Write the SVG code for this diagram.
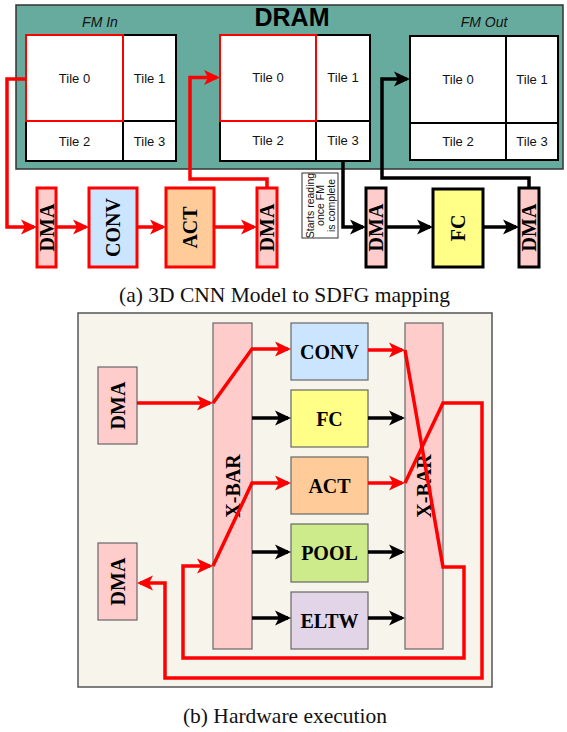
<svg xmlns="http://www.w3.org/2000/svg" width="567" height="732" viewBox="0 0 567 732">
<style>
.tile{fill:#fff;stroke:#000;stroke-width:2}
.tsel{fill:none;stroke:#ff0000;stroke-width:2}
.tt{font-family:"Liberation Sans",Arial,sans-serif;font-size:13px;fill:#111;text-anchor:middle;dominant-baseline:central}
.fm{font-family:"Liberation Sans",Arial,sans-serif;font-size:14px;font-style:italic;fill:#111;text-anchor:middle}
.lb{font-family:"Liberation Serif","Times New Roman",serif;font-size:20px;font-weight:bold;fill:#000;text-anchor:middle;dominant-baseline:central}
.cap{font-family:"Liberation Serif","Times New Roman",serif;font-size:21.5px;fill:#111;text-anchor:middle}
.rl{fill:none;stroke:#ff0000;stroke-width:3.5;stroke-linejoin:miter}
.bl{fill:none;stroke:#000;stroke-width:3.5;stroke-linejoin:miter}
.ra{marker-end:url(#ar)}
.ba{marker-end:url(#ab)}
.ab{stroke:#ff0000;stroke-width:3}
.abk{stroke:#000;stroke-width:3}
.bb{stroke:#666;stroke-width:1.2}
</style>
<defs>
<marker id="ar" markerUnits="userSpaceOnUse" markerWidth="18" markerHeight="18" viewBox="-14 -9 18 18" refX="0" refY="0" orient="auto"><path d="M-13,-7.5 L3,0 L-13,7.5 L-9,0 z" fill="#ff0000"/></marker>
<marker id="ab" markerUnits="userSpaceOnUse" markerWidth="18" markerHeight="18" viewBox="-14 -9 18 18" refX="0" refY="0" orient="auto"><path d="M-13,-7.5 L3,0 L-13,7.5 L-9,0 z" fill="#000"/></marker>
</defs>
<rect width="567" height="732" fill="#fff"/>

<!-- Part (a) -->
<g id="dram">
<rect x="16" y="5" width="547" height="164" fill="#67ab9f" stroke="#333" stroke-width="1.5"/>
<text x="292" y="26" font-family="'Liberation Sans',Arial,sans-serif" font-size="25" font-weight="bold" text-anchor="middle" fill="#000">DRAM</text>
</g>
<g id="fm-in">
<text class="fm" x="100" y="27">FM In</text>
<rect class="tile" x="26" y="35" width="150" height="126"/>
<line x1="123" y1="35" x2="123" y2="161" stroke="#000" stroke-width="2"/>
<line x1="26" y1="121" x2="176" y2="121" stroke="#000" stroke-width="2"/>
<rect class="tsel" x="26" y="35" width="97" height="86"/>
<text class="tt" x="74.5" y="78">Tile 0</text>
<text class="tt" x="149.5" y="78">Tile 1</text>
<text class="tt" x="74.5" y="141">Tile 2</text>
<text class="tt" x="149.5" y="141">Tile 3</text>
</g>
<g id="fm-mid">
<rect class="tile" x="220" y="35" width="150" height="126"/>
<line x1="316" y1="35" x2="316" y2="161" stroke="#000" stroke-width="2"/>
<line x1="220" y1="121" x2="370" y2="121" stroke="#000" stroke-width="2"/>
<rect class="tsel" x="220" y="35" width="96" height="86"/>
<text class="tt" x="268" y="77">Tile 0</text>
<text class="tt" x="343" y="77">Tile 1</text>
<text class="tt" x="268" y="140">Tile 2</text>
<text class="tt" x="343" y="140">Tile 3</text>
</g>
<g id="fm-out">
<text class="fm" x="484" y="27">FM Out</text>
<rect class="tile" x="410" y="36" width="148" height="124"/>
<line x1="506" y1="36" x2="506" y2="160" stroke="#000" stroke-width="2"/>
<line x1="410" y1="123" x2="558" y2="123" stroke="#000" stroke-width="2"/>
<text class="tt" x="458" y="79">Tile 0</text>
<text class="tt" x="532" y="79">Tile 1</text>
<text class="tt" x="458" y="141">Tile 2</text>
<text class="tt" x="532" y="141">Tile 3</text>
</g>

<g id="a-dma1"><rect class="ab" x="37" y="188" width="19" height="79" fill="#ffcccc"/><text class="lb" transform="translate(46.5,227.5) rotate(-90)">DMA</text></g>
<g id="a-conv"><rect class="ab" x="89" y="188" width="48" height="79" fill="#cce5ff"/><text class="lb" transform="translate(113,227.5) rotate(-90)">CONV</text></g>
<g id="a-act"><rect class="ab" x="166" y="188" width="48" height="79" fill="#ffcc99"/><text class="lb" transform="translate(190,227.5) rotate(-90)">ACT</text></g>
<g id="a-dma2"><rect class="ab" x="257" y="188" width="20" height="79" fill="#ffcccc"/><text class="lb" transform="translate(267,227.5) rotate(-90)">DMA</text></g>
<g id="a-dma3"><rect class="abk" x="366" y="188" width="20" height="79" fill="#ffcccc"/><text class="lb" transform="translate(376,227.5) rotate(-90)">DMA</text></g>
<g id="a-fc"><rect class="abk" x="433" y="189" width="50" height="78" fill="#ffff88"/><text class="lb" transform="translate(458,228) rotate(-90)">FC</text></g>
<g id="a-dma4"><rect class="abk" x="519" y="188" width="20" height="79" fill="#ffcccc"/><text class="lb" transform="translate(529,227.5) rotate(-90)">DMA</text></g>

<g id="note">
<rect x="302" y="173" width="36" height="65" fill="#fff" stroke="#333" stroke-width="1"/>
<text transform="translate(320,205.5) rotate(-90)" font-family="'Liberation Sans',Arial,sans-serif" font-size="10.5" fill="#111" text-anchor="middle" dominant-baseline="central"><tspan x="0" y="-10.5">Starts reading</tspan><tspan x="0" y="0">once FM</tspan><tspan x="0" y="10.5">is complete</tspan></text>
</g>

<g id="a-connectors">
<path class="rl ra" d="M26,79 H7 V227 H34"/>
<path class="rl ra" d="M56,227 H86"/>
<path class="rl ra" d="M137,227 H163"/>
<path class="rl ra" d="M214,227 H254"/>
<path class="rl ra" d="M267,188 V179 H190 V77.5 H217"/>
<path class="bl ba" d="M343,161 V227 H363"/>
<path class="bl ba" d="M386,227 H430"/>
<path class="bl ba" d="M483,227 H516"/>
<path class="bl ba" d="M529,188 V178 H382 V79 H407"/>
</g>

<text class="cap" x="284.5" y="302">(a) 3D CNN Model to SDFG mapping</text>

<!-- Part (b) -->
<g id="hw-frame"><rect x="78" y="313" width="414" height="374" fill="#f7f4ec" stroke="#555" stroke-width="1.5"/></g>
<g id="b-dma-top"><rect class="bb" x="98" y="367" width="39" height="77" fill="#ffcccc"/><text class="lb" transform="translate(117.5,405.5) rotate(-90)">DMA</text></g>
<g id="b-dma-bot"><rect class="bb" x="98" y="543" width="39" height="77" fill="#ffcccc"/><text class="lb" transform="translate(117.5,581.5) rotate(-90)">DMA</text></g>
<g id="xbar-l"><rect class="bb" x="213" y="323" width="39" height="326" fill="#ffcccc"/><text class="lb" transform="translate(232.5,486) rotate(-90)">X-BAR</text></g>
<g id="xbar-r"><rect class="bb" x="405" y="323" width="38" height="326" fill="#ffcccc"/><text class="lb" transform="translate(424,486) rotate(-90)">X-BAR</text></g>
<g id="b-conv"><rect class="bb" x="291" y="323" width="77" height="57" fill="#cce5ff"/><text class="lb" x="329.5" y="351.5">CONV</text></g>
<g id="b-fc"><rect class="bb" x="291" y="390" width="77" height="57" fill="#ffff88"/><text class="lb" x="329.5" y="418.5">FC</text></g>
<g id="b-act"><rect class="bb" x="291" y="457" width="77" height="57" fill="#ffcc99"/><text class="lb" x="329.5" y="485.5">ACT</text></g>
<g id="b-pool"><rect class="bb" x="291" y="524" width="77" height="58" fill="#cdeb8b"/><text class="lb" x="329.5" y="553">POOL</text></g>
<g id="b-eltw"><rect class="bb" x="291" y="592" width="77" height="57" fill="#e1d5e7"/><text class="lb" x="329.5" y="620.5">ELTW</text></g>

<g id="b-connectors">
<path class="rl ra" d="M137,403 H210"/>
<path class="rl ra" d="M213,403 L252,349 H288"/>
<path class="bl ba" d="M252,418 H288"/>
<path class="rl ra" d="M213,566 L252,483 H288"/>
<path class="bl ba" d="M252,552 H288"/>
<path class="bl ba" d="M252,618 H288"/>
<path class="rl ra" d="M368,350 H402"/>
<path class="bl ba" d="M368,418 H402"/>
<path class="rl ra" d="M368,483 H402"/>
<path class="bl ba" d="M368,552 H402"/>
<path class="bl ba" d="M368,618 H402"/>
<path class="rl ra" d="M405,350 L443,567 H464 V658 H183 V566 H210"/>
<path class="rl ra" d="M405,483 L443,403 H482 V678 H165 V583 H140"/>
</g>

<text class="cap" x="285" y="723">(b) Hardware execution</text>
</svg>
